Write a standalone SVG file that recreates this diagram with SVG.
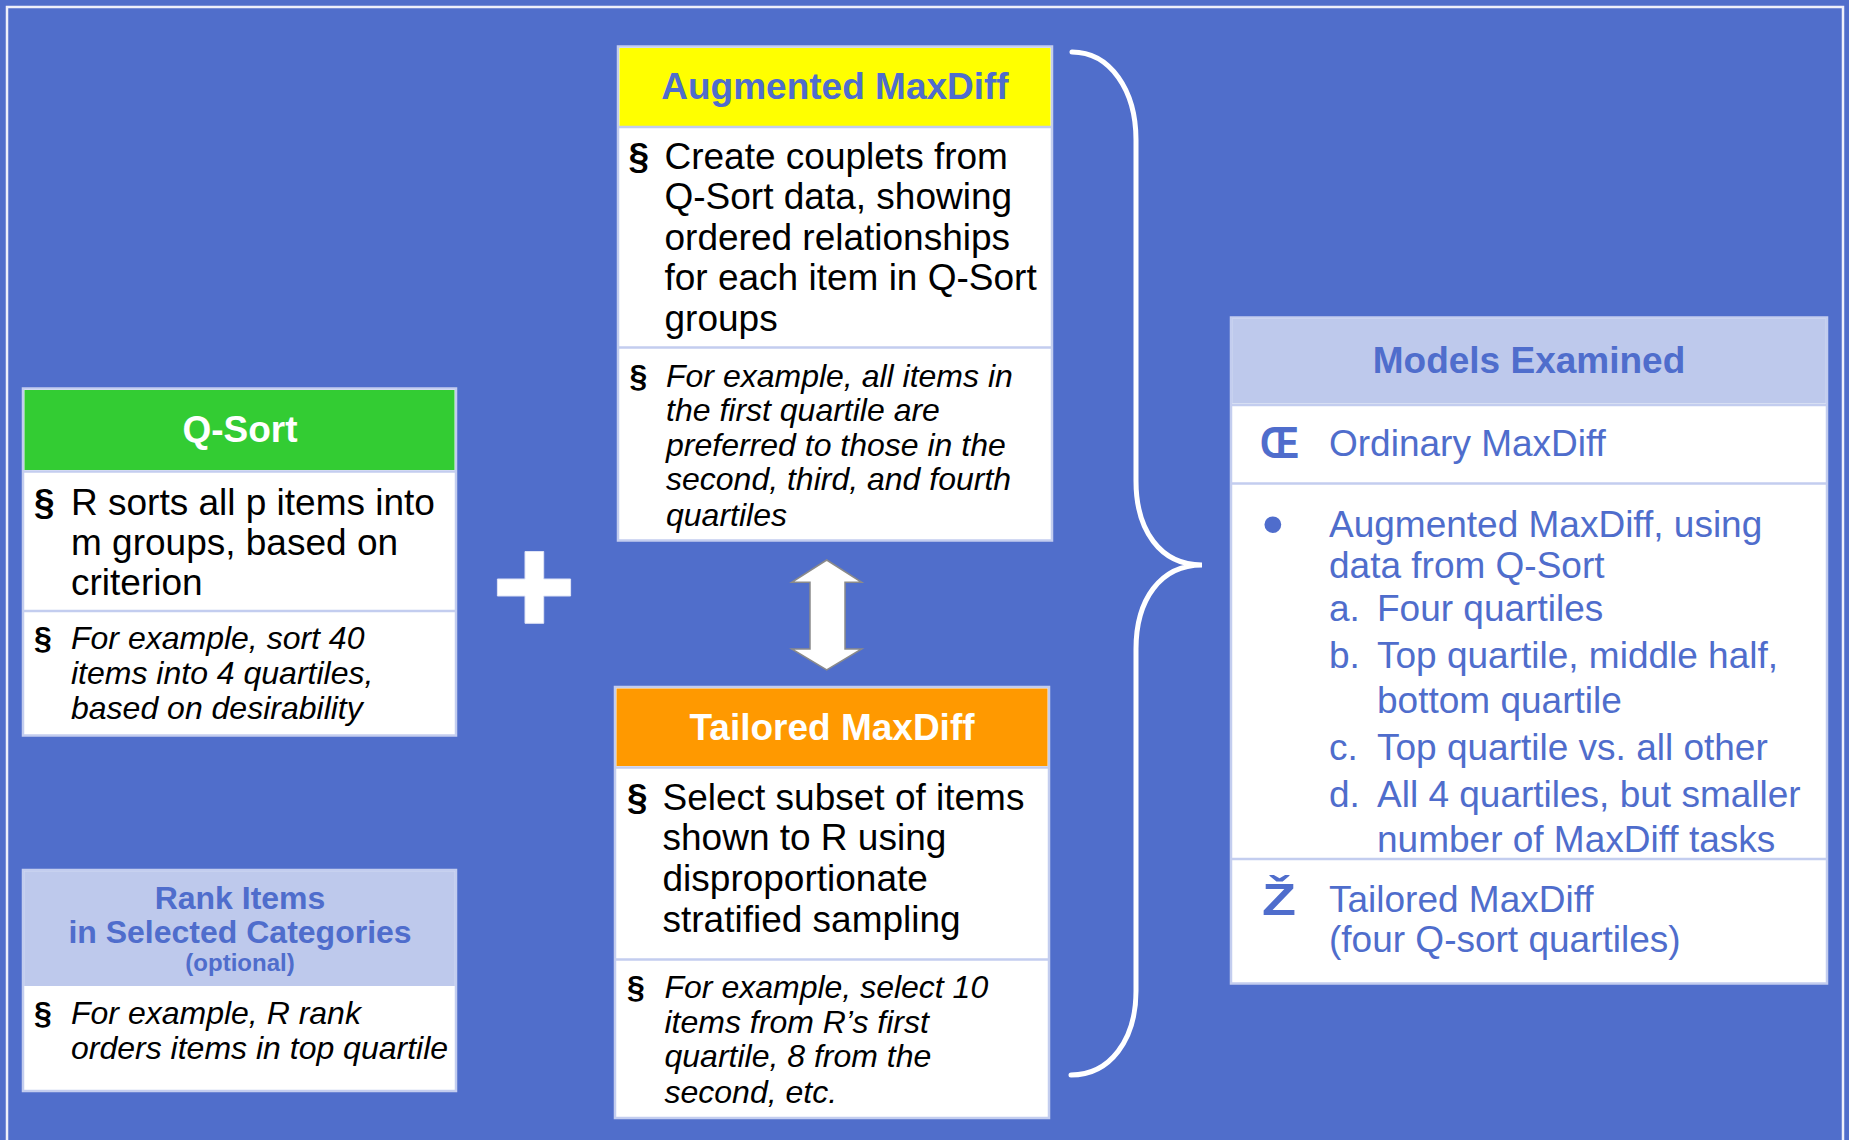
<svg xmlns="http://www.w3.org/2000/svg" width="1849" height="1140" viewBox="0 0 1849 1140">
  <style>
    text { font-family: "Liberation Sans", Arial, sans-serif; }
    .box { fill: #ffffff; stroke: #c3cdef; stroke-width: 2.5; }
    .sep { stroke: #c3cdef; stroke-width: 2.5; }
    .hdr { font-size: 37px; font-weight: bold; text-anchor: middle; }
    .body { font-size: 37px; fill: #000000; }
    .ital { font-size: 32px; font-style: italic; fill: #000000; }
    .sec { font-size: 37px; font-weight: bold; fill: #000000; }
    .seci { font-size: 32px; font-weight: bold; fill: #000000; }
    .blue { fill: #4f6dcc; }
    .mt { font-size: 37px; fill: #4f6dcc; }
    .lav { fill: #bec9ec; }
  </style>
  <rect x="0" y="0" width="1849" height="1140" fill="#506ecb"/>
  <rect x="7" y="7" width="1836" height="1160" fill="none" stroke="#eef0fa" stroke-width="2.5"/>

  <g id="connectors">
    <path id="brace" d="M1072,52 C1110,52 1136,90 1136,140 L1136,481 C1136,530 1160,565 1202,565 C1160,565 1136,600 1136,649 L1136,991 C1136,1040 1110,1075 1071,1075" fill="none" stroke="#ffffff" stroke-width="5" stroke-linecap="round"/>
    <path id="double-arrow" d="M826.7,560 L861.7,582.3 L845,582.3 L845,649 L861.7,649 L826.7,670 L791.7,649 L810,649 L810,582.3 L791.7,582.3 Z" fill="#ffffff" stroke="#8a8a8a" stroke-width="1.5"/>
    <path id="plus" d="M525,551.5 L543.7,551.5 L543.7,579 L570.6,579 L570.6,596 L543.7,596 L543.7,623.3 L525,623.3 L525,596 L497.4,596 L497.4,579 L525,579 Z" fill="#ffffff" stroke="#dfe4f6" stroke-width="1"/>
  </g>

  <g id="qsort">
    <rect class="box" x="23" y="388.5" width="433" height="347"/>
    <rect x="24.5" y="390" width="430" height="80" fill="#33cc33"/>
    <line class="sep" x1="24" y1="471.5" x2="455" y2="471.5"/>
    <line class="sep" x1="24" y1="611" x2="455" y2="611"/>
    <text class="hdr" x="240" y="442" fill="#ffffff">Q-Sort</text>
    <text class="sec" x="34" y="514.5">§</text>
    <text class="body" x="71" y="514.5">R sorts all p items into</text>
    <text class="body" x="71" y="555">m groups, based on</text>
    <text class="body" x="71" y="595">criterion</text>
    <text class="seci" x="34" y="649">§</text>
    <text class="ital" x="71" y="649">For example, sort 40</text>
    <text class="ital" x="71" y="684">items into 4 quartiles,</text>
    <text class="ital" x="71" y="719">based on desirability</text>
  </g>

  <g id="rank-items">
    <rect class="box" x="23" y="870" width="433" height="221"/>
    <rect class="lav" x="24.2" y="871.2" width="430.6" height="114.8"/>
    <text class="blue" x="240" y="909" font-size="32" font-weight="bold" text-anchor="middle">Rank Items</text>
    <text class="blue" x="240" y="943" font-size="32" font-weight="bold" text-anchor="middle">in Selected Categories</text>
    <text class="blue" x="240" y="971" font-size="24" font-weight="bold" text-anchor="middle">(optional)</text>
    <text class="seci" x="34" y="1024">§</text>
    <text class="ital" x="71" y="1024">For example, R rank</text>
    <text class="ital" x="71" y="1059">orders items in top quartile</text>
  </g>

  <g id="augmented">
    <rect class="box" x="618" y="46.5" width="434" height="494"/>
    <rect x="619.5" y="48" width="431" height="78" fill="#ffff00"/>
    <line class="sep" x1="619" y1="127" x2="1051" y2="127"/>
    <line class="sep" x1="619" y1="347.5" x2="1051" y2="347.5"/>
    <text class="hdr blue" x="835" y="99">Augmented MaxDiff</text>
    <text class="sec" x="628.5" y="169">§</text>
    <text class="body" x="664.5" y="169">Create couplets from</text>
    <text class="body" x="664.5" y="209">Q-Sort data, showing</text>
    <text class="body" x="664.5" y="250">ordered relationships</text>
    <text class="body" x="664.5" y="290">for each item in Q-Sort</text>
    <text class="body" x="664.5" y="330.5">groups</text>
    <text class="seci" x="629.5" y="387">§</text>
    <text class="ital" x="666" y="387">For example, all items in</text>
    <text class="ital" x="666" y="421">the first quartile are</text>
    <text class="ital" x="666" y="455.5">preferred to those in the</text>
    <text class="ital" x="666" y="490">second, third, and fourth</text>
    <text class="ital" x="666" y="526">quartiles</text>
  </g>

  <g id="tailored">
    <rect class="box" x="615" y="687" width="434" height="431"/>
    <rect x="616.5" y="688.5" width="431" height="77.5" fill="#ff9900"/>
    <line class="sep" x1="616" y1="767.5" x2="1048" y2="767.5"/>
    <line class="sep" x1="616" y1="959.5" x2="1048" y2="959.5"/>
    <text class="hdr" x="832" y="740" fill="#ffffff">Tailored MaxDiff</text>
    <text class="sec" x="627" y="809.5">§</text>
    <text class="body" x="662.5" y="809.5">Select subset of items</text>
    <text class="body" x="662.5" y="849.5">shown to R using</text>
    <text class="body" x="662.5" y="891">disproportionate</text>
    <text class="body" x="662.5" y="932">stratified sampling</text>
    <text class="seci" x="627" y="998">§</text>
    <text class="ital" x="664.5" y="998">For example, select 10</text>
    <text class="ital" x="664.5" y="1033">items from R’s first</text>
    <text class="ital" x="664.5" y="1067">quartile, 8 from the</text>
    <text class="ital" x="664.5" y="1102.5">second, etc.</text>
  </g>

  <g id="models">
    <rect class="box" x="1231" y="317.5" width="596" height="666"/>
    <rect class="lav" x="1232.2" y="318.7" width="593.6" height="84.8"/>
    <line class="sep" x1="1232" y1="405" x2="1826" y2="405"/>
    <line class="sep" x1="1232" y1="483.5" x2="1826" y2="483.5"/>
    <line class="sep" x1="1232" y1="859" x2="1826" y2="859"/>
    <text class="hdr blue" x="1529" y="373">Models Examined</text>
    <text class="blue" x="1260" y="458" font-size="44" font-weight="bold" textLength="39" lengthAdjust="spacingAndGlyphs">Œ</text>
    <text class="mt" x="1329" y="456">Ordinary MaxDiff</text>
    <text class="blue" x="1262" y="545" font-size="62">•</text>
    <text class="mt" x="1329" y="537">Augmented MaxDiff, using</text>
    <text class="mt" x="1329" y="578">data from Q-Sort</text>
    <text class="mt" x="1329" y="621">a.</text>
    <text class="mt" x="1377" y="621">Four quartiles</text>
    <text class="mt" x="1329" y="668">b.</text>
    <text class="mt" x="1377" y="668">Top quartile, middle half,</text>
    <text class="mt" x="1377" y="713">bottom quartile</text>
    <text class="mt" x="1329" y="759.5">c.</text>
    <text class="mt" x="1377" y="759.5">Top quartile vs. all other</text>
    <text class="mt" x="1329" y="807">d.</text>
    <text class="mt" x="1377" y="807">All 4 quartiles, but smaller</text>
    <text class="mt" x="1377" y="852">number of MaxDiff tasks</text>
    <text class="blue" x="1262" y="915" font-size="44" font-weight="bold" textLength="34" lengthAdjust="spacingAndGlyphs">Ž</text>
    <text class="mt" x="1329" y="912">Tailored MaxDiff</text>
    <text class="mt" x="1329" y="952">(four Q-sort quartiles)</text>
  </g>
</svg>
